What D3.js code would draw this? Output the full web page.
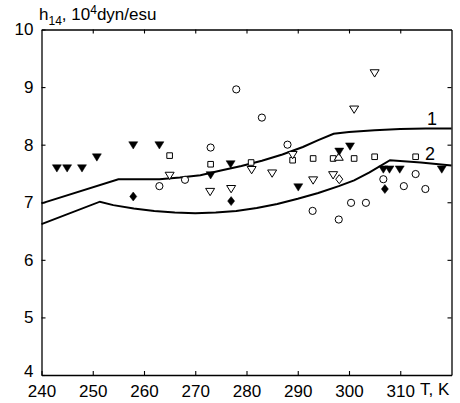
<!DOCTYPE html>
<html>
<head>
<meta charset="utf-8">
<script src="https://cdn.jsdelivr.net/npm/d3@7"></script>
<style>
  body { margin: 0; background: #fff; }
  text { font-family: "Liberation Sans", Arial, sans-serif; }
</style>
</head>
<body>
<div id="chart"></div>
<script>
// h14 vs temperature ([T, h])

var xTicks = [240, 250, 260, 270, 280, 290, 300, 310];
var yTicks = [4, 5, 6, 7, 8, 9, 10];

var filledDown = [[243.0, 7.59], [245.0, 7.59], [247.9, 7.59], [250.8, 7.78], [257.9, 7.99],
    [263.0, 7.99], [273.0, 7.47], [276.9, 7.66], [290.1, 7.26], [298.1, 7.88], [300.2, 7.97],
    [306.7, 7.57], [307.9, 7.57], [309.9, 7.57], [318.1, 7.57]];
var openCircle = [[278.0, 8.96], [283.0, 8.47], [273.0, 7.95], [288.0, 8.0], [268.0, 7.39],
    [263.0, 7.28], [306.7, 7.40], [313.0, 7.49], [310.7, 7.28], [314.9, 7.23],
    [292.9, 6.85], [298.0, 6.70], [300.4, 6.99], [303.3, 6.99]];
var openSquare = [[265.0, 7.81], [273.0, 7.66], [280.9, 7.69], [289.0, 7.73], [293.0, 7.76],
    [296.9, 7.76], [301.0, 7.76], [305.0, 7.79], [313.0, 7.79]];
var openDown = [[265.0, 7.46], [272.9, 7.18], [277.0, 7.23], [281.0, 7.56], [285.0, 7.50],
    [289.0, 7.82], [293.0, 7.38], [296.9, 7.47], [301.0, 8.61], [305.0, 9.24]];
var openUp = [[298.0, 7.79]];
var openDiamond = [[298.1, 7.40]];
var filledDiamond = [[257.9, 7.10], [277.0, 7.02], [307.0, 7.23]];

var curve1 = [[240, 6.98], [255, 7.40], [263, 7.40], [267, 7.43], [271, 7.47], [275, 7.55],
    [279, 7.63], [283, 7.72], [287, 7.83], [291, 7.96], [294, 8.08], [297, 8.19],
    [300, 8.22], [305, 8.25], [310, 8.27], [315, 8.28], [320, 8.28]];
var curve2 = [[240, 6.62], [251.4, 7.01], [254, 6.95], [258, 6.89], [262, 6.85], [266, 6.82],
    [270, 6.81], [274, 6.82], [278, 6.85], [282, 6.90], [286, 6.97], [290, 7.06],
    [294, 7.16], [298, 7.28], [301, 7.38], [304, 7.52], [308, 7.73], [314, 7.69], [320, 7.64]];

var width = 460,
    height = 403,
    margin = {top: 29.5, right: 8.5, bottom: 28, left: 41.5};

var svg = d3.select("#chart").append("svg")
    .attr("width", width)
    .attr("height", height);

var x = d3.scaleLinear().domain([240, 320]).range([margin.left, width - margin.right]);
var y = d3.scaleLinear().domain([4, 10]).range([height - margin.bottom, margin.top]);

// axes, ticks pointing inwards
svg.append("g")
    .attr("transform", "translate(0," + y(4) + ")")
    .call(d3.axisBottom(x).tickValues(xTicks).tickSizeInner(-4).tickSizeOuter(0).tickPadding(10))
    .call(g => g.selectAll(".tick text").attr("font-size", 17).attr("font-family", null));
svg.append("g")
    .attr("transform", "translate(0," + y(10) + ")")
    .call(d3.axisTop(x).tickValues(xTicks.slice(1)).tickSizeInner(-4).tickSizeOuter(0).tickFormat(""));
svg.append("g")
    .attr("transform", "translate(" + x(240) + ",0)")
    .call(d3.axisLeft(y).tickValues(yTicks).tickFormat(d3.format("d")).tickSizeInner(-4).tickSizeOuter(0).tickPadding(8))
    .call(g => g.selectAll(".tick text").attr("font-size", 17).attr("font-family", null)
        .attr("dy", function(d) { return d == 4 ? "0.1em" : "0.32em"; }));
svg.append("g")
    .attr("transform", "translate(" + x(320) + ",0)")
    .call(d3.axisRight(y).tickValues(yTicks.slice(1, -1)).tickSizeInner(-4).tickSizeOuter(0).tickFormat(""));

svg.selectAll(".domain").attr("stroke-width", 1.3);
svg.selectAll(".tick line").attr("stroke-width", 1.1);

// theory curves
var line = d3.line()
    .x(function(d) { return x(d[0]); })
    .y(function(d) { return y(d[1]); });

[curve1, curve2].forEach(function(c) {
    svg.append("path")
        .datum(c)
        .attr("fill", "none")
        .attr("stroke", "#000")
        .attr("stroke-width", 2)
        .attr("d", line);
});

svg.append("text").attr("x", 427).attr("y", 125).attr("font-size", 18).text("1");
svg.append("text").attr("x", 425).attr("y", 160).attr("font-size", 18).text("2");

// markers
function shape(kind) {
    if (kind == "down") return "M-4.5,-3.5L4.5,-3.5L0,3.8Z";
    if (kind == "up") return "M-4.5,3.5L4.5,3.5L0,-3.8Z";
    if (kind == "square") return "M-2.8,-2.8H2.8V2.8H-2.8Z";
    if (kind == "diamond") return "M0,-4.5L3.5,0L0,4.5L-3.5,0Z";
    return d3.arc()({innerRadius: 0, outerRadius: 3.6, startAngle: 0, endAngle: 2 * Math.PI});
}

function drawPoints(data, kind, filled) {
    svg.append("g").selectAll("path")
        .data(data)
        .enter().append("path")
        .attr("transform", function(d) { return "translate(" + x(d[0]) + "," + y(d[1]) + ")"; })
        .attr("d", shape(kind))
        .attr("fill", filled ? "#000" : "#fff")
        .attr("stroke", "#000")
        .attr("stroke-width", filled ? 0.5 : 1);
}

drawPoints(openCircle, "circle", false);
drawPoints(openSquare, "square", false);
drawPoints(openDown, "down", false);
drawPoints(openUp, "up", false);
drawPoints(openDiamond, "diamond", false);
drawPoints(filledDiamond, "diamond", true);
drawPoints(filledDown, "down", true);

// axis titles
var title = svg.append("text").attr("x", 39).attr("y", 20).attr("font-size", 17);
title.append("tspan").text("h");
title.append("tspan").attr("font-size", 12).attr("dy", 5).text("14");
title.append("tspan").attr("dy", -5).text(", 10");
title.append("tspan").attr("font-size", 12).attr("dy", -6).text("4");
title.append("tspan").attr("dy", 6).text("dyn/esu");

svg.append("text").attr("x", 420).attr("y", 395).attr("font-size", 17).text("T, K");
</script>
</body>
</html>
